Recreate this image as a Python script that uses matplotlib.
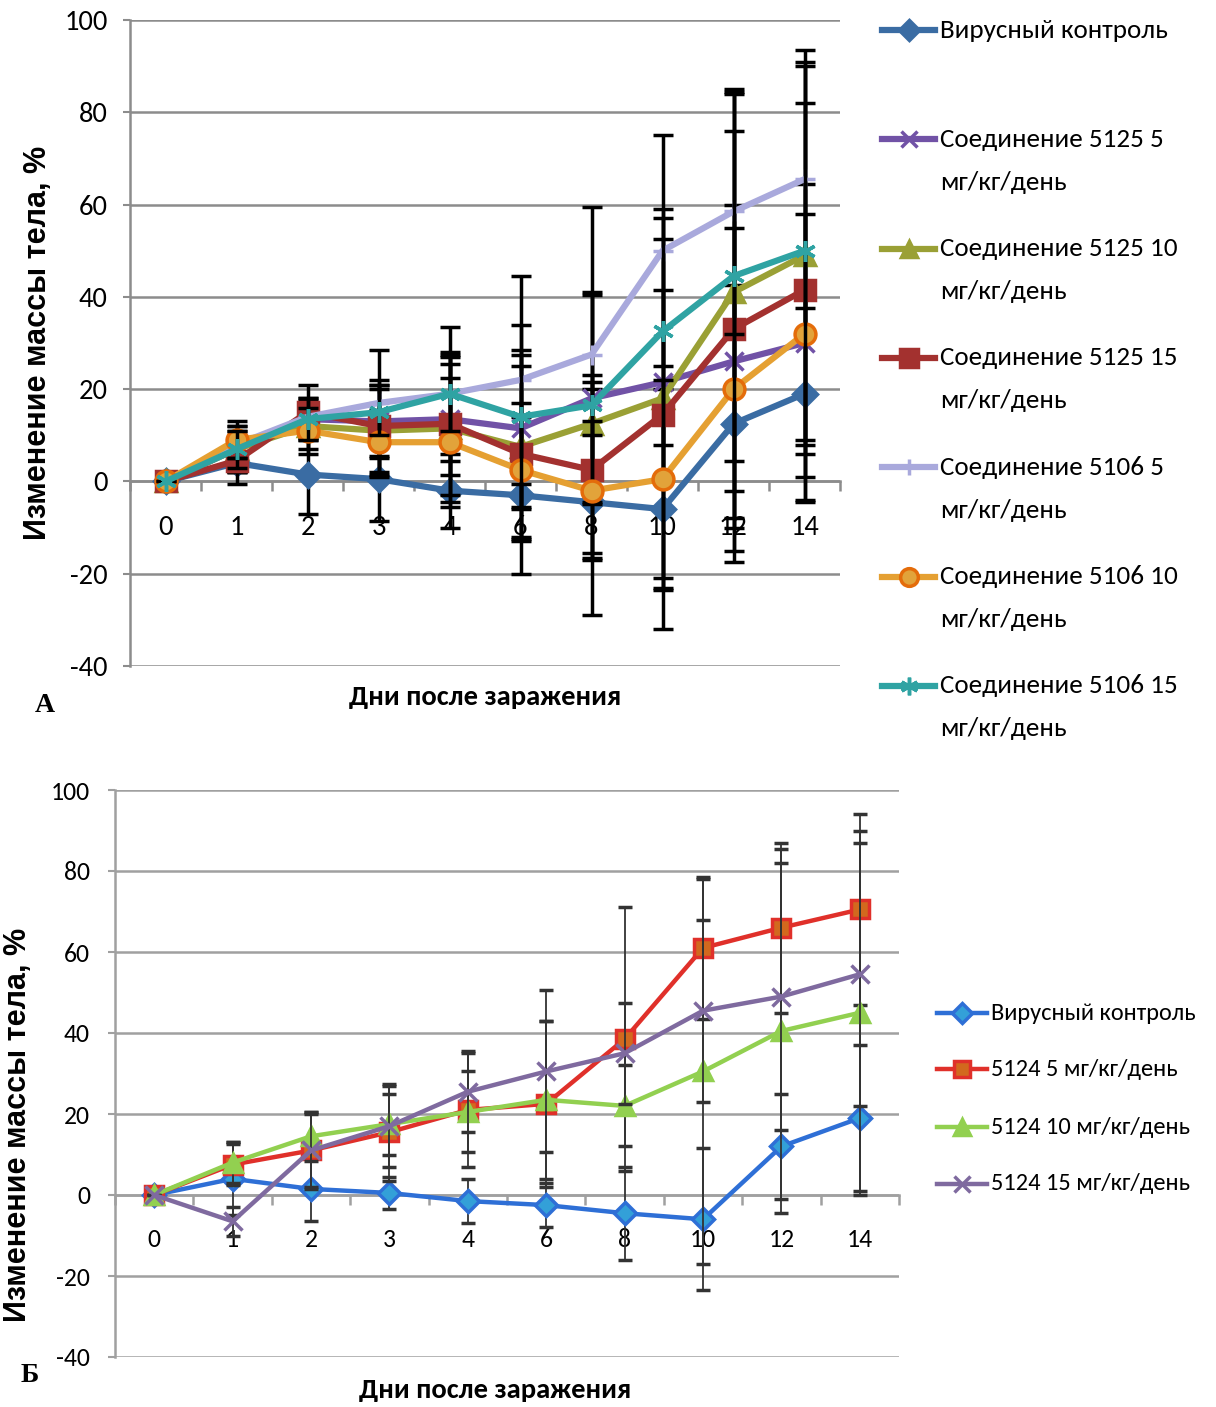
import numpy as np
import matplotlib
matplotlib.use("Agg")
import matplotlib.pyplot as plt
from matplotlib import font_manager
from matplotlib.lines import Line2D

# pick a narrow Calibri-like face if there is one
installed = {f.name for f in font_manager.fontManager.ttflist}
narrow = 'Liberation Sans'
for cand in ['Carlito', 'PT Sans Narrow', 'Roboto Condensed', 'Liberation Sans Narrow', 'Open Sans Condensed']:
    if cand in installed:
        narrow = cand
        break
plt.rcParams['font.family'] = [narrow, 'DejaVu Sans']

days = ['0', '1', '2', '3', '4', '6', '8', '10', '12', '14']

# panel A
labels_a = ["Вирусный контроль",
            "Соединение 5125 5\nмг/кг/день",
            "Соединение 5125 10\nмг/кг/день",
            "Соединение 5125 15\nмг/кг/день",
            "Соединение 5106 5\nмг/кг/день",
            "Соединение 5106 10\nмг/кг/день",
            "Соединение 5106 15\nмг/кг/день"]
vals_a = [
    [0, 4, 1.5, 0.5, -2, -3, -4.5, -6, 12.5, 19],
    [0, 7, 13.5, 13, 13.5, 11.5, 18, 21.5, 26, 30],
    [0, 7, 12, 11, 11.5, 7.5, 12.5, 18, 41, 49],
    [0, 4.5, 15, 12, 12.5, 6, 2.5, 14.5, 33, 41.5],
    [0, 8, 14, 17, 19, 22, 27.5, 50, 58.5, 65.5],
    [0, 9, 11, 8.5, 8.5, 2.5, -2, 0.5, 20, 32],
    [0, 7, 13.5, 15, 19, 14, 16.5, 32.5, 44.5, 50],
]
err_a = [
    [0, 2, 8.5, 9, 8, 17, 24.5, 26, 30, 23],
    [0, 5, 4, 8, 12, 17, 23, 20, 34, 34.5],
    [0, 5, 5, 10, 16, 20, 28, 41, 43, 41],
    [0, 5, 6, 10, 15.5, 19, 19, 38, 43, 40.5],
    [0, 3, 4, 11.5, 14.5, 22.5, 32, 25, 26.5, 28],
    [0, 4, 5, 7, 14, 14.5, 15, 21.5, 35, 26],
    [0, 4, 4.5, 5, 8, 20, 6.5, 24.5, 40, 41],
]
colors_a = ['#3A6CA3', '#7152A6', '#9AA035', '#A3312F', '#A9A9DC', '#E5A032', '#2FA3A3']
mfc_a = ['#3A6CA3', '#7152A6', '#9AA035', '#A3312F', '#A9A9DC', '#E2A33A', '#2FA3A3']
mec_a = ['#3A6CA3', '#7152A6', '#9AA035', '#A3312F', '#A9A9DC', '#E46C0A', '#2FA3A3']
markers_a = ['D', 'x', '^', 's', '+', 'o', (6, 2, 0)]
msize_a = [12, 13, 14, 15, 14, 15, 15]

# panel B
labels_b = ["Вирусный контроль", "5124 5 мг/кг/день", "5124 10 мг/кг/день", "5124 15 мг/кг/день"]
vals_b = [
    [0, 4, 1.5, 0.5, -1.5, -2.5, -4.5, -6, 12, 19],
    [0, 7.5, 11, 15.5, 21, 22.5, 38.5, 61, 66, 70.5],
    [0, 8, 14.5, 17.5, 20.5, 23.5, 22, 30.5, 40.5, 45],
    [0, -6.5, 11, 17, 25.5, 30.5, 35, 45.5, 49, 54.5],
]
err_b = [
    [0, 9, 8, 4, 5.5, 5.5, 11.5, 17.5, 13, 18],
    [0, 5, 9, 12, 14, 20.5, 32.5, 17.5, 21, 23.5],
    [0, 5, 6, 7.5, 10, 19.5, 10, 47.5, 45, 45],
    [0, 3.5, 9.5, 10, 10, 20, 12.5, 22.5, 33, 32.5],
]
colors_b = ['#2E6FD6', '#E0302A', '#92D050', '#7F6A9F']
mfc_b = ['#33A0D8', '#D2691E', '#92D050', '#7F6A9F']
mec_b = ['#2E6FD6', '#E0302A', '#92D050', '#7F6A9F']
markers_b = ['D', 's', '^', 'x']
msize_b = [11, 13, 13, 13]

W, H = 1216, 1407
fig = plt.figure(figsize=(W / 100, H / 100), dpi=100)

# scale the narrow font so "Вирусный контроль" at 20 pt is about 228 px wide, as in the picture
probe = fig.text(0, 0, labels_a[0], fontsize=20)
pw = probe.get_window_extent(renderer=fig.canvas.get_renderer()).width
probe.remove()
k = 228.0 / pw


def box(l, t, r, b):
    return [l / W, 1 - b / H, (r - l) / W, (b - t) / H]


def draw_panel(ax, vals, errs, colors, mfc, mec, markers, msize, lw, elw, ecolor, grid_c, tick_fs, cap, pad, ypad):
    x = np.arange(len(days))
    for i in range(len(vals)):
        ax.errorbar(x, vals[i], yerr=errs[i], color=colors[i], lw=lw, marker=markers[i],
                    ms=msize[i], mfc=mfc[i], mec=mec[i], mew=2.5,
                    ecolor=ecolor, elinewidth=elw, capsize=cap, capthick=elw, zorder=3 + i)
    ax.set_xlim(-0.5, len(days) - 0.5)
    ax.set_ylim(-40, 100)
    ax.set_yticks(np.arange(-40, 101, 20))
    ax.set_yticklabels([str(v) for v in range(-40, 101, 20)])
    ax.yaxis.grid(True, color=grid_c, lw=1.8)
    ax.set_axisbelow(True)
    for s in ['top', 'right']:
        ax.spines[s].set_visible(False)
    ax.spines['left'].set_color(grid_c)
    ax.spines['left'].set_linewidth(1.8)
    ax.spines['bottom'].set_position(('data', 0))
    ax.spines['bottom'].set_color(grid_c)
    ax.spines['bottom'].set_linewidth(1.8)
    ax.set_xticks(x)
    ax.set_xticklabels(days, fontsize=tick_fs)
    ax.set_xticks(np.arange(-0.5, len(days)), minor=True)
    ax.tick_params(axis='x', which='major', length=0, pad=pad)
    ax.tick_params(axis='x', which='minor', length=7, width=1.8, color=grid_c, direction='out')
    ax.tick_params(axis='y', length=5, width=1.5, color=grid_c, labelsize=tick_fs, pad=ypad)


def draw_legend(ys, x0, x1, tx, labels, colors, mfc, mec, markers, msize, lw, fs, dy2):
    for i, lab in enumerate(labels):
        yf = 1 - ys[i] / H
        fig.add_artist(Line2D([x0 / W, x1 / W], [yf, yf], color=colors[i], lw=lw,
                              transform=fig.transFigure))
        fig.add_artist(Line2D([(x0 + x1) / 2 / W], [yf], marker=markers[i], ms=msize[i],
                              mfc=mfc[i], mec=mec[i], mew=2.5, lw=0, transform=fig.transFigure))
        for j, line in enumerate(lab.split('\n')):
            fig.text(tx / W, 1 - (ys[i] + j * dy2) / H, line, fontsize=fs,
                     ha='left', va='center')


# ---- panel A
ax1 = fig.add_axes(box(130, 20, 840, 666))
draw_panel(ax1, vals_a, err_a, colors_a, mfc_a, mec_a, markers_a, msize_a,
           lw=4.5, elw=2.5, ecolor='black', grid_c='#8C8C8C', tick_fs=21 * k, cap=7, pad=24, ypad=11)
ax1.set_ylabel("Изменение массы тела, %", fontsize=22, fontweight='bold',
               family=['Liberation Sans', 'DejaVu Sans'])
ax1.yaxis.set_label_coords(-0.108, 0.5)
ax1.text(0.5, -0.048, "Дни после заражения", transform=ax1.transAxes, ha='center', va='center',
         fontsize=21 * k, fontweight='bold')
fig.text(45 / W, 1 - 705 / H, "А", fontsize=20, fontweight='bold', ha='center', va='center',
         family=['Liberation Serif', 'DejaVu Serif'])
draw_legend([30 + 109.3 * i for i in range(7)], 882, 935, 940, labels_a, colors_a, mfc_a, mec_a,
            markers_a, [m * 0.85 for m in msize_a], 4.5, 20 * k, 43)

# ---- panel B
ax2 = fig.add_axes(box(115, 790, 899, 1357))
draw_panel(ax2, vals_b, err_b, colors_b, mfc_b, mec_b, markers_b, msize_b,
           lw=3.2, elw=1.3, ecolor='#333333', grid_c='#A0A0A0', tick_fs=19 * k, cap=5, pad=24, ypad=13)
ax2.set_ylabel("Изменение массы тела, %", fontsize=22, fontweight='bold',
               family=['Liberation Sans', 'DejaVu Sans'])
ax2.yaxis.set_label_coords(-0.104, 0.41)
ax2.text(0.485, -0.058, "Дни после заражения", transform=ax2.transAxes, ha='center', va='center',
         fontsize=21 * k, fontweight='bold')
fig.text(30 / W, 1 - 1375 / H, "Б", fontsize=20, fontweight='bold', ha='center', va='center',
         family=['Liberation Serif', 'DejaVu Serif'])
draw_legend([1013, 1069, 1127, 1184], 937, 987, 991, labels_b, colors_b, mfc_b, mec_b,
            markers_b, [m * 0.9 for m in msize_b], 3.2, 18 * k, 0)

fig.savefig("out.png", dpi=100)
